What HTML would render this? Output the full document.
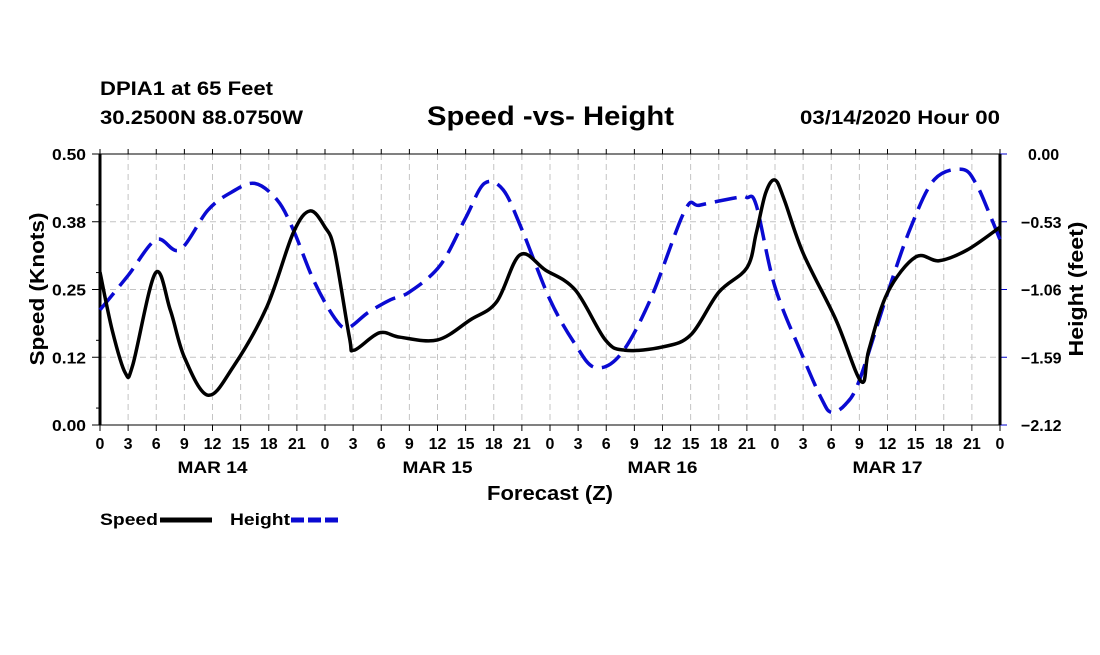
<!DOCTYPE html>
<html><head><meta charset="utf-8"><style>
html,body{margin:0;padding:0;background:#fff;}
svg text{font-family:"Liberation Sans",Arial,sans-serif;font-weight:bold;fill:#000;}
</style></head><body>
<svg id="chart" width="1100" height="650" viewBox="0 0 1100 650" xmlns="http://www.w3.org/2000/svg">
<text x="100" y="95" font-size="19" textLength="173" lengthAdjust="spacingAndGlyphs">DPIA1 at 65 Feet</text>
<text x="100" y="124" font-size="19" textLength="203" lengthAdjust="spacingAndGlyphs">30.2500N 88.0750W</text>
<text x="427" y="125" font-size="27" textLength="247" lengthAdjust="spacingAndGlyphs">Speed -vs- Height</text>
<text x="800" y="124" font-size="19" textLength="200" lengthAdjust="spacingAndGlyphs">03/14/2020 Hour 00</text>
<g id="grid"></g>
<g id="axes"></g>
<g id="series"></g>
<text transform="translate(44,289) rotate(-90)" font-size="20" text-anchor="middle" textLength="153" lengthAdjust="spacingAndGlyphs">Speed (Knots)</text>
<text transform="translate(1083,289) rotate(-90)" font-size="20" text-anchor="middle" textLength="135" lengthAdjust="spacingAndGlyphs">Height (feet)</text>
<text x="550" y="500" font-size="20" text-anchor="middle" textLength="126" lengthAdjust="spacingAndGlyphs">Forecast (Z)</text>
<g>
<text x="100" y="525" font-size="17" textLength="58" lengthAdjust="spacingAndGlyphs">Speed</text>
<line x1="160" y1="520" x2="212" y2="520" stroke="#000" stroke-width="5"/>
</g>
<g>
<text x="230" y="525" font-size="17" textLength="60" lengthAdjust="spacingAndGlyphs">Height</text>
<line x1="291" y1="520" x2="342" y2="520" stroke="#0a0ad2" stroke-width="5" stroke-dasharray="13,4"/>
</g>
</svg>
<script>
const speedHours=[0,1.3,2.7,3.5,5.9,7.5,9,11.5,14.2,17.8,20.6,22.4,24,25,26.6,27.1,29.8,32,36,39.5,42.3,44.8,47.5,50.7,53.9,56,60,63,66,69,70,71,72,73,75,78.5,81.2,82,84,87,89.5,92.5,96];
const speedValues=[0.282,0.175,0.096,0.111,0.280,0.212,0.125,0.055,0.107,0.218,0.354,0.395,0.365,0.323,0.162,0.138,0.170,0.162,0.157,0.194,0.227,0.314,0.286,0.249,0.157,0.138,0.144,0.166,0.245,0.290,0.354,0.428,0.452,0.415,0.317,0.194,0.080,0.138,0.244,0.310,0.303,0.323,0.365];
const heightHours=[0,3,6,8.5,11.5,14,16.5,18.9,20.6,22.8,25,26.4,28.6,31,33,36.3,39,41,43,45,48,50.7,52.8,55.5,58.7,62.4,64,68,69,70,72,75,77,78,79.5,81,84,86.5,89,92,93.5,95,96];
const heightValues=[-1.22,-0.95,-0.67,-0.75,-0.44,-0.30,-0.23,-0.36,-0.59,-0.99,-1.28,-1.36,-1.24,-1.14,-1.08,-0.87,-0.50,-0.23,-0.28,-0.59,-1.14,-1.49,-1.67,-1.57,-1.14,-0.44,-0.40,-0.34,-0.34,-0.40,-1.04,-1.59,-1.92,-2.02,-1.96,-1.77,-1.09,-0.57,-0.20,-0.12,-0.24,-0.49,-0.67];
const leftTicks=["0.00","0.12","0.25","0.38","0.50"];
const rightTicks=["\u22122.12","\u22121.59","\u22121.06","\u22120.53","0.00"];
const hourLabels=["0","3","6","9","12","15","18","21"];
const dayLabels=["MAR 14","MAR 15","MAR 16","MAR 17"];

const X0=100,X1=1000,Y0=425,Y1=154;
const xs=h=>X0+(h/96)*(X1-X0);
const ySpeed=v=>Y0-(v/0.5)*(Y0-Y1);
const yHeight=f=>Y0-((f+2.12)/2.12)*(Y0-Y1);
const NS="http://www.w3.org/2000/svg";
function mk(tag,attrs,parent){const e=document.createElementNS(NS,tag);for(const k in attrs)e.setAttribute(k,attrs[k]);parent.appendChild(e);return e;}
const grid=document.getElementById('grid'),axes=document.getElementById('axes'),series=document.getElementById('series');

for(let i=0;i<=32;i++){
  const x=xs(i*3);
  if(i>0&&i<32){const g=mk('line',{x1:x,y1:Y1,x2:x,y2:Y0,stroke:'#c4c4c4','stroke-width':1,'stroke-dasharray':'6,4'},grid);
  
  }
  const t=mk('line',{x1:x,y1:Y0,x2:x,y2:Y0+6,stroke:'#000','stroke-width':1},axes);
  
  
  const tt=mk('line',{x1:x,y1:Y1,x2:x,y2:Y1-5,stroke:'#000','stroke-width':1},axes);
  
  
  const lab=i===32?"0":hourLabels[i%8];
  const l=mk('text',{x:x,y:Y0+24,'font-size':16,'text-anchor':'middle'},axes);l.textContent=lab;
  
  
}
dayLabels.forEach((d,i)=>{const t=mk('text',{x:xs(i*24+12),y:473,'font-size':17,'text-anchor':'middle',textLength:70,lengthAdjust:'spacingAndGlyphs'},axes);t.textContent=d;
  
  });
for(let i=0;i<5;i++){
  const y=Y0-i*(Y0-Y1)/4;
  if(i>0&&i<4){const g=mk('line',{x1:X0,y1:y,x2:X1,y2:y,stroke:'#c4c4c4','stroke-width':1,'stroke-dasharray':'6,4'},grid);
  
  }
  mk('line',{x1:X0-8,y1:y,x2:X0,y2:y,stroke:'#000','stroke-width':1},axes);
  mk('line',{x1:X1,y1:y,x2:X1+7,y2:y,stroke:'#0000cc','stroke-width':1},axes);
  const l=mk('text',{x:X0-14,y:y+6,'font-size':16,'text-anchor':'end',textLength:34,lengthAdjust:'spacingAndGlyphs'},axes);l.textContent=leftTicks[i];
  
  
  const r=mk('text',{x:rightTicks[i].length>4?X1+21:X1+28,y:y+6,'font-size':16,'text-anchor':'start'},axes);r.textContent=rightTicks[i];
  
  
}
for(let i=0;i<8;i++){const y=Y0-(i+0.5)*(Y0-Y1)/8;if(i%2===0){mk('line',{x1:X0-4,y1:y,x2:X0,y2:y,stroke:'#000','stroke-width':1},axes);}}
mk('line',{x1:X0,y1:Y1,x2:X1,y2:Y1,stroke:'#000','stroke-width':1},axes);
mk('line',{x1:X0,y1:Y0,x2:X1,y2:Y0,stroke:'#000','stroke-width':1},axes);
mk('line',{x1:X0,y1:Y1,x2:X0,y2:Y0,stroke:'#000','stroke-width':3},axes);
mk('line',{x1:X1,y1:Y1,x2:X1,y2:Y0,stroke:'#000','stroke-width':3},axes);

function smooth(pts){
  let d=`M${pts[0][0]},${pts[0][1]}`;
  for(let i=0;i<pts.length-1;i++){
    const p0=pts[Math.max(0,i-1)],p1=pts[i],p2=pts[i+1],p3=pts[Math.min(pts.length-1,i+2)];
    const c1=[p1[0]+(p2[0]-p0[0])/6,p1[1]+(p2[1]-p0[1])/6];
    const c2=[p2[0]-(p3[0]-p1[0])/6,p2[1]-(p3[1]-p1[1])/6];
    d+=` C${c1[0]},${c1[1]} ${c2[0]},${c2[1]} ${p2[0]},${p2[1]}`;
  }
  return d;
}
const hp=heightHours.map((h,i)=>[xs(h),yHeight(heightValues[i])]);
const hl=mk('path',{d:smooth(hp),fill:'none',stroke:'#0a0ad2','stroke-width':3.5,'stroke-dasharray':'22,9'},series);


const sp=speedHours.map((h,i)=>[xs(h),ySpeed(speedValues[i])]);
const sl=mk('path',{d:smooth(sp),fill:'none',stroke:'#000','stroke-width':3.5,'stroke-linejoin':'round'},series);


</script>
</body></html>
